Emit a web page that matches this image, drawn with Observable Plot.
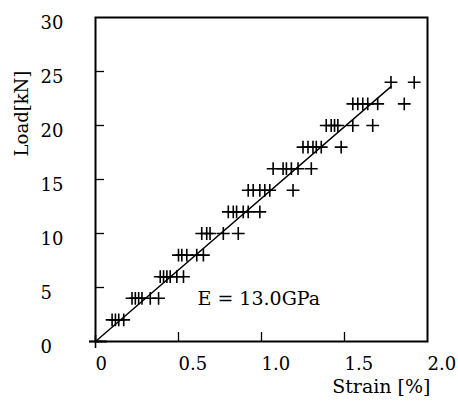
<!DOCTYPE html>
<html>
<head>
<meta charset="utf-8">
<script src="https://cdn.jsdelivr.net/npm/d3@7"></script>
<script src="https://cdn.jsdelivr.net/npm/@observablehq/plot@0.6"></script>
<style>
  html, body { margin: 0; padding: 0; background: #fff; }
</style>
</head>
<body>
<div id="chart"></div>
<script>
// Measured points: load level (kN) and strain (%)
const loadLevels = [0, 2, 4, 6, 8, 10, 12, 14, 16, 18, 20, 22, 24];
const strainsByLevel = [
  [0],
  [0.10, 0.12, 0.14, 0.17],
  [0.22, 0.24, 0.26, 0.28, 0.33, 0.38],
  [0.39, 0.41, 0.43, 0.45, 0.49, 0.53],
  [0.50, 0.52, 0.55, 0.61, 0.65],
  [0.64, 0.67, 0.69, 0.77, 0.86],
  [0.80, 0.83, 0.85, 0.89, 0.92, 0.99],
  [0.92, 0.95, 0.99, 1.02, 1.05, 1.19],
  [1.07, 1.13, 1.15, 1.18, 1.22, 1.30],
  [1.25, 1.28, 1.31, 1.33, 1.36, 1.48],
  [1.39, 1.42, 1.44, 1.46, 1.55, 1.67],
  [1.55, 1.58, 1.61, 1.64, 1.70, 1.86],
  [1.78, 1.92]
];

// Fitted line (E = 13.0 GPa)
const fitStrain = [0, 1.78];
const fitLoad = [0, 23.6];

// Ticks
const xTickValues = [0, 0.5, 1.0, 1.5, 2.0];
const xTickLabels = ["0", "0.5", "1.0", "1.5", "2.0"];
const yTickValues = [0, 5, 10, 15, 20, 25, 30];
const yTickLabels = ["0", "5", "10", "15", "20", "25", "30"];

const xLabel = "Strain [%]";
const yLabel = "Load[kN]";
const annotation = "E = 13.0GPa";

// Build tables
const points = [];
loadLevels.forEach((L, i) => strainsByLevel[i].forEach(s => points.push({strain: s, load: L})));
const fit = fitStrain.map((s, i) => ({strain: s, load: fitLoad[i]}));
const xTicks = xTickValues.map((v, i) => ({v, label: xTickLabels[i]}));
const yTicks = yTickValues.map((v, i) => ({v, label: yTickLabels[i]}));

const font = "DejaVu Serif";

const chart = Plot.plot({
  width: 458,
  height: 405,
  marginLeft: 95,
  marginRight: 31,
  marginTop: 17,
  marginBottom: 64,
  x: {domain: [0, 2], axis: null},
  y: {domain: [0, 30], axis: null},
  style: {fontFamily: font, background: "#fff", color: "#000"},
  marks: [
    // inward tick marks
    Plot.tickX(xTicks.filter(d => d.v > 0 && d.v < 2), {x: "v", insetTop: 315, stroke: "#000", strokeWidth: 1.3}),
    Plot.tickY(yTicks.filter(d => d.v > 0 && d.v < 30), {y: "v", insetRight: 323, stroke: "#000", strokeWidth: 1.3}),
    Plot.tickY([0], {y: d => d, insetLeft: -6, insetRight: 320, stroke: "#000", strokeWidth: 2}),
    Plot.frame({stroke: "#000", strokeWidth: 2}),
    // tick labels
    Plot.text(xTicks, {x: "v", text: "label", frameAnchor: "bottom", dy: 23, textAnchor: "start", lineAnchor: "middle", fontSize: 18, fill: "#000"}),
    Plot.text(yTicks, {y: "v", text: "label", frameAnchor: "left", dx: -55, dy: 6, textAnchor: "start", lineAnchor: "middle", fontSize: 18, fill: "#000"}),
    // axis titles
    Plot.text([xLabel], {text: d => d, frameAnchor: "bottom-right", dx: 3, dy: 45, textAnchor: "end", lineAnchor: "middle", fontSize: 19, fill: "#000"}),
    Plot.text([yLabel], {text: d => d, frameAnchor: "top-left", dx: -73, dy: 96, rotate: -90, textAnchor: "middle", lineAnchor: "middle", fontSize: 18, fill: "#000"}),
    // annotation
    Plot.text([annotation], {text: d => d, frameAnchor: "bottom-left", dx: 102, dy: -43, textAnchor: "start", lineAnchor: "middle", fontSize: 19, fill: "#000"}),
    // fit line
    Plot.line(fit, {x: "strain", y: "load", stroke: "#000", strokeWidth: 1.4}),
    // data points
    Plot.dot(points, {x: "strain", y: "load", symbol: "plus", r: 4.2, stroke: "#000", strokeWidth: 1.6})
  ]
});

document.getElementById("chart").appendChild(chart);
</script>
</body>
</html>
